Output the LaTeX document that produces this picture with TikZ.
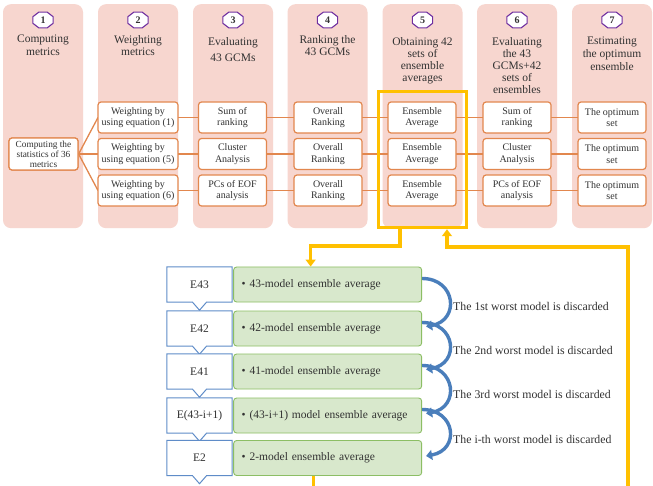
\documentclass[tikz,border=0pt]{standalone}
\usepackage{fontspec}
\setmainfont{Liberation Serif}
\usetikzlibrary{shapes.geometric,arrows.meta,calc}
\definecolor{pnk}{RGB}{247,214,207}
\definecolor{org}{RGB}{226,135,78}
\definecolor{prp}{RGB}{112,48,160}
\definecolor{grf}{RGB}{216,232,204}
\definecolor{grd}{RGB}{140,190,100}
\definecolor{blb}{RGB}{95,140,200}
\definecolor{bla}{RGB}{74,126,187}
\definecolor{ylw}{RGB}{255,192,0}
\definecolor{txt}{RGB}{50,50,50}
\tikzset{
  panel/.style={fill=pnk, draw=none, rounded corners=8pt, minimum width=80pt, minimum height=224pt, anchor=north},
  numb/.style={inner sep=0pt, font=\bfseries\fontsize{10}{10}\selectfont, text=txt},
  octa/.style={draw=prp, line width=1.1pt, fill=white},
  ttl/.style={align=center, anchor=north, font=\fontsize{11.5}{12.5}\selectfont, text=txt, inner sep=0pt},
  ibox/.style={draw=org, line width=1.2pt, fill=white, rounded corners=3pt, minimum width=68pt, minimum height=31pt, align=center, font=\fontsize{10}{11.5}\selectfont, text=txt, inner sep=0pt},
  oline/.style={draw=org, line width=1.3pt},
  ebox/.style={minimum width=65pt, minimum height=35pt, font=\fontsize{11.5}{13}\selectfont, text=txt, inner sep=0pt},
  gbox/.style={draw=grd, fill=grf, line width=0.9pt, rounded corners=3pt, minimum width=188pt, minimum height=35pt, font=\fontsize{11.5}{13}\selectfont, text=txt, anchor=west, align=left, inner sep=0pt, text width=188pt},
  lbl/.style={anchor=west, font=\fontsize{11.8}{13}\selectfont, text=txt, inner sep=0pt},
  barrow/.style={draw=bla, line width=3.4pt, -{Triangle[width=10pt,length=6pt]}},
  yline/.style={draw=ylw, line width=3.5pt},
}
\begin{document}
\begin{tikzpicture}[x=1pt,y=-1pt]
\useasboundingbox[fill=white] (0,0) rectangle (653,486);
% panels
\foreach \i/\cx in {1/43,2/138,3/233,4/327.5,5/422.5,6/517,7/612}{
  \node[panel] (p\i) at (\cx,4) {};
  \draw[octa] (\cx,20) +(22.5:11pt and 8.5pt) -- +(67.5:11pt and 8.5pt) -- +(112.5:11pt and 8.5pt) -- +(157.5:11pt and 8.5pt) -- +(202.5:11pt and 8.5pt) -- +(247.5:11pt and 8.5pt) -- +(292.5:11pt and 8.5pt) -- +(337.5:11pt and 8.5pt) -- cycle;
  \node[numb] (n\i) at (\cx,20) {\i};
}
\node[ttl] (t1) at (43,35) {Computing\\metrics};
\node[ttl] (t2) at (138,35) {Weighting\\metrics};
\node[ttl, font=\fontsize{11.5}{16}\selectfont] (t3) at (233,37) {Evaluating\\43 GCMs};
\node[ttl] (t4) at (327.5,35) {Ranking the\\43 GCMs};
\node[ttl, font=\fontsize{11.5}{12}\selectfont] (t5) at (422.5,37) {Obtaining 42\\sets of\\ensemble\\averages};
\node[ttl, font=\fontsize{11.5}{12}\selectfont] (t6) at (517,37) {Evaluating\\the 43\\GCMs+42\\sets of\\ensembles};
\node[ttl, font=\fontsize{11.5}{13}\selectfont] (t7) at (612,37) {Estimating\\the optimum\\ensemble};
% connectors first
\node[ibox, minimum width=69pt, minimum height=32pt] (c0) at (43.5,154) {};
\foreach \r/\y in {1/117.5,2/154,3/190.5}{
  \coordinate (cw\r) at (98,\y);
  \coordinate (ce\r) at (612,\y);
  \draw[oline] (c0.east) -- (cw\r);
  \draw[oline] (cw\r) -- (ce\r);
}
% inner boxes
\node[ibox, minimum width=69pt, minimum height=32pt, font=\fontsize{9.3}{10}\selectfont] (c1) at (43.5,154) {Computing the\\statistics of 36\\metrics};
\foreach \r/\y/\eq/\ev in {1/117.5/1/{Sum of\\ranking},2/154/5/{Cluster\\Analysis},3/190.5/6/{PCs of EOF\\analysis}}{
  \node[ibox, minimum width=80pt] (w\r) at (138,\y) {Weighting by\\using equation (\eq)};
  \node[ibox] (s\r) at (232.5,\y) {\ev};
  \node[ibox] (o\r) at (328,\y) {Overall\\Ranking};
  \node[ibox] (a\r) at (422,\y) {Ensemble\\Average};
  \node[ibox] (v\r) at (517,\y) {\ev};
  \node[ibox] (m\r) at (612,\y) {The optimum\\set};
}
% yellow frame
\node[draw=ylw, line width=3.5pt, minimum width=88pt, minimum height=136pt, inner sep=0pt] (Y) at (422.5,159.5) {};
% bottom section
\foreach \k/\y/\e/\g in {1/284.5/E43/{43-model ensemble average},2/328.5/E42/{42-model ensemble average},3/371.5/E41/{41-model ensemble average},4/415.5/E(43-i+1)/{(43-i+1) model ensemble average},5/458/E2/{2-model ensemble average}}{
  \node[ebox] (e\k) at (199.5,\y) {\e};
  \draw[draw=blb, line width=1pt, fill=white] (e\k.north west) -- (e\k.north east) -- (e\k.south east) -- ([xshift=7pt]e\k.south) -- ([yshift=-8pt]e\k.south) -- ([xshift=-7pt]e\k.south) -- (e\k.south west) -- cycle;
  \node[ebox] at (e\k) {\e};
  \node[gbox] (g\k) at ([xshift=1pt]e\k.east) {\hspace{8pt}\textbullet\hspace{4pt}\g};
}
% blue curved arrows
\foreach \a/\b in {1/2,2/3,3/4,4/5}{
  \draw[barrow] ([yshift=6pt]g\a.east) .. controls +(34,0) and +(34,-6) .. ([xshift=4pt,yshift=2pt]g\b.east);
}
\node[lbl] (l1) at (453,306) {The 1st worst model is discarded};
\node[lbl] (l2) at (453,350) {The 2nd worst model is discarded};
\node[lbl] (l3) at (453,394) {The 3rd worst model is discarded};
\node[lbl] (l4) at (453,439) {The i-th worst model is discarded};
% yellow connectors
\draw[yline, -{Triangle[width=10pt,length=7pt]}] ([xshift=-22.5pt]Y.south) -- ++(0,17) -| ([xshift=-17pt]g1.north);
\draw[yline] ([xshift=-14pt]g5.south) -- ++(0,12);
\coordinate (bend) at (628,486);
\draw[yline, -{Triangle[width=10pt,length=7pt]}] (bend) |- (447,247) -- ([xshift=24.5pt]Y.south);
\end{tikzpicture}
\end{document}
